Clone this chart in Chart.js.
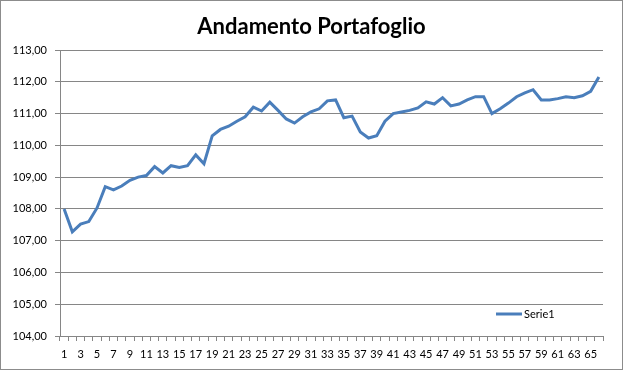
<!DOCTYPE html>
<html>
<head>
<meta charset="utf-8">
<script src="https://cdn.jsdelivr.net/npm/chart.js@4/dist/chart.umd.min.js"></script>
<style>
html,body{margin:0;padding:0;background:#fff;}
#wrap{width:623px;height:370px;position:relative;}
</style>
</head>
<body>
<div id="wrap"><canvas id="c" width="623" height="370"></canvas></div>
<script>
const chartTitle = "Andamento Portafoglio";
const seriesName = "Serie1";
const categories = Array.from({length: 66}, (_, i) => String(i + 1));
const values = [
  108.00, 107.28, 107.52, 107.60, 108.03, 108.70, 108.60, 108.72, 108.90, 109.00,
  109.05, 109.33, 109.13, 109.36, 109.30, 109.36, 109.70, 109.42, 110.30, 110.50,
  110.60, 110.76, 110.90, 111.20, 111.08, 111.36, 111.10, 110.83, 110.70, 110.90,
  111.05, 111.15, 111.40, 111.43, 110.87, 110.92, 110.42, 110.23, 110.30, 110.76,
  111.00, 111.05, 111.10, 111.18, 111.37, 111.30, 111.50, 111.24, 111.30, 111.43,
  111.53, 111.53, 111.00, 111.15, 111.33, 111.53, 111.65, 111.75, 111.43, 111.43,
  111.47, 111.53, 111.50, 111.56, 111.70, 112.15
];
const yMin = 104, yMax = 113, yStep = 1;

const lineColor = '#4A7EBB';
const gridColor = '#868686';
const fontFam = 'Lato, "Open Sans", sans-serif';

const decor = {
  id: 'decor',
  afterDraw(chart) {
    const ctx = chart.ctx;
    const ca = chart.chartArea;
    ctx.save();
    // outer border
    ctx.strokeStyle = '#8c8c8c';
    ctx.lineWidth = 1;
    ctx.strokeRect(0.5, 0.5, chart.width - 1, chart.height - 1);
    // title centred on the whole picture
    ctx.fillStyle = '#000';
    ctx.font = 'bold 22px ' + fontFam;
    ctx.textAlign = 'center';
    ctx.textBaseline = 'middle';
    ctx.fillText(chartTitle, chart.width / 2, 27);
    // legend inside plot area
    const ly = ca.bottom - 22;
    const lx = ca.right - 107;
    ctx.strokeStyle = lineColor;
    ctx.lineWidth = 3;
    ctx.beginPath();
    ctx.moveTo(lx, ly);
    ctx.lineTo(lx + 26, ly);
    ctx.stroke();
    ctx.font = '11px ' + fontFam;
    ctx.textAlign = 'left';
    ctx.fillText(seriesName, lx + 28, ly);
    ctx.restore();
  }
};

new Chart(document.getElementById('c'), {
  type: 'line',
  data: {
    labels: categories,
    datasets: [{
      label: seriesName,
      data: values,
      borderColor: lineColor,
      backgroundColor: lineColor,
      borderWidth: 3,
      pointRadius: 0,
      tension: 0,
      fill: false
    }]
  },
  options: {
    responsive: false,
    animation: false,
    devicePixelRatio: 1,
    layout: { padding: { left: 0, right: 20, top: 50, bottom: 0 } },
    plugins: {
      legend: { display: false },
      tooltip: { enabled: false },
      title: { display: false }
    },
    scales: {
      x: {
        offset: true,
        afterFit(s) { s.height = 34; },
        grid: {
          offset: true,
          drawOnChartArea: false,
          drawTicks: true,
          tickLength: 5,
          color: gridColor
        },
        border: { display: true, color: gridColor, width: 1 },
        ticks: {
          autoSkip: false,
          maxRotation: 0,
          minRotation: 0,
          padding: 7,
          color: '#000',
          font: { family: fontFam, size: 11 },
          callback(v, i) { return i % 2 === 0 ? categories[i] : ''; }
        }
      },
      y: {
        min: yMin,
        max: yMax,
        afterFit(s) { s.width = 60; },
        grid: {
          color: gridColor,
          lineWidth: 1,
          tickLength: 5
        },
        border: { display: true, color: gridColor, width: 1 },
        ticks: {
          stepSize: yStep,
          padding: 8,
          color: '#000',
          font: { family: fontFam, size: 11 },
          callback(v) { return Number(v).toFixed(2).replace('.', ','); }
        }
      }
    }
  },
  plugins: [decor]
});
</script>
</body>
</html>
